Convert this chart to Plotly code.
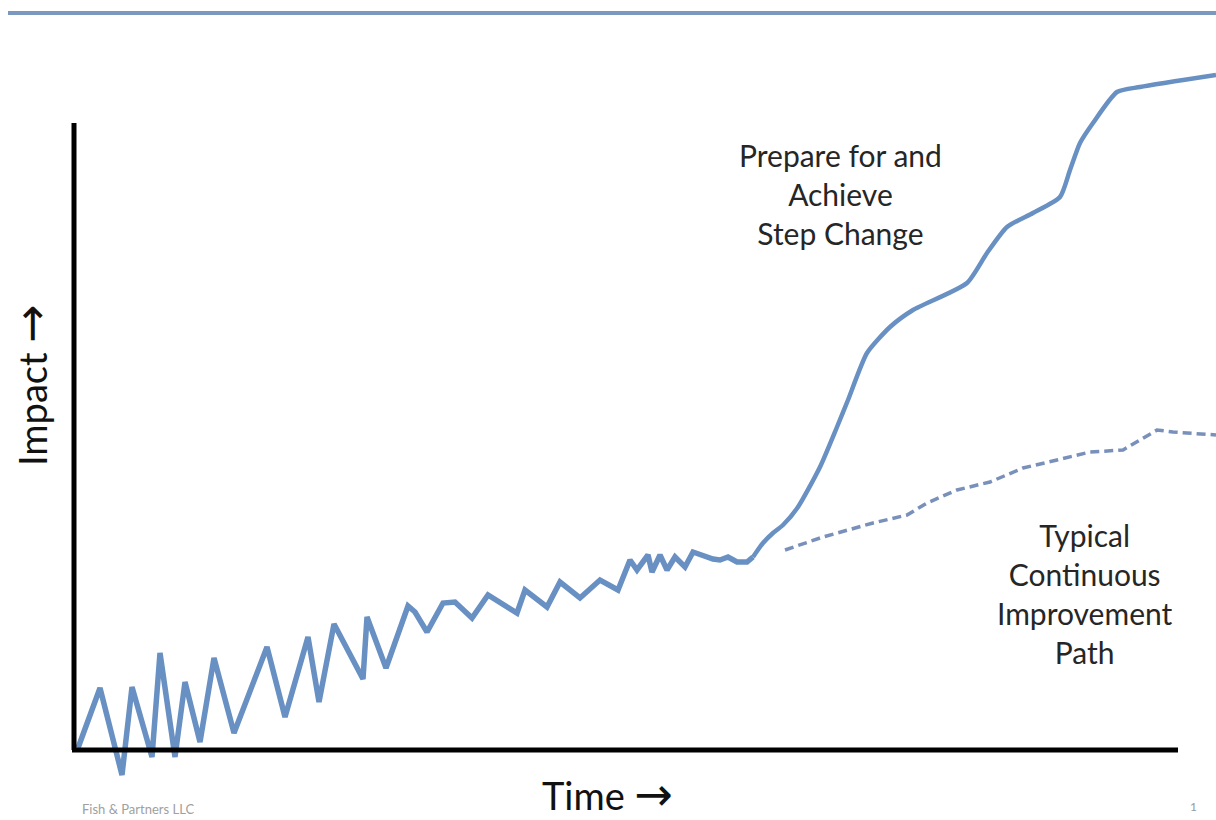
import plotly.graph_objects as go

# Step-change path: jagged early improvement, then a steep climb
time_step = [4, 26, 48, 58, 78, 86, 101, 111, 126, 140, 160, 193, 211, 234, 245,
             260, 289, 293, 312, 334, 341, 353, 369, 381, 398, 414, 443, 451, 473,
             486, 506, 526, 544, 556, 563, 574, 578, 586, 593, 601, 611, 619, 639,
             646, 654, 663, 673, 679]
impact_step = [2, 62, -25, 63, -7, 97, -7, 68, 8, 92, 17, 103, 33, 113, 48,
               126, 71, 133, 82, 144, 138, 118, 147, 148, 132, 155, 137, 160, 143,
               168, 152, 170, 160, 190, 180, 195, 178, 195, 180, 193, 183, 198, 191,
               190, 193, 188, 188, 193]

time_climb = [679, 689, 699, 709, 724, 746, 763, 774, 793, 816, 839, 893, 913,
              933, 959, 986, 996, 1006, 1019, 1043, 1066, 1142]
impact_climb = [193, 207, 217, 225, 243, 283, 323, 350, 397, 423, 440, 467, 497,
                523, 537, 553, 580, 607, 627, 658, 663, 675]

# Typical continuous-improvement path (dashed)
time_typical = [711, 749, 799, 833, 853, 883, 916, 949, 983, 1016, 1049, 1066,
                1083, 1099, 1142]
impact_typical = [200, 213, 227, 235, 247, 260, 268, 282, 290, 298, 300, 310,
                  320, 318, 315]

LINE_BLUE = "#6890c2"
DASH_BLUE = "#7890ba"
TEXT_FONT = "Lato, 'Open Sans', sans-serif"
ARROW = "<span style='font-family:DejaVu Sans;font-size:46px'>\u2192</span>"

fig = go.Figure()
fig.add_trace(go.Scatter(x=time_step, y=impact_step, mode="lines",
                         line=dict(color=LINE_BLUE, width=5.5), hoverinfo="skip"))
fig.add_trace(go.Scatter(x=time_climb, y=impact_climb, mode="lines",
                         line=dict(color=LINE_BLUE, width=4.5, shape="spline", smoothing=0.6),
                         hoverinfo="skip"))
fig.add_trace(go.Scatter(x=time_typical, y=impact_typical, mode="lines",
                         line=dict(color=DASH_BLUE, width=3.5, dash="9px,5px"),
                         hoverinfo="skip"))

# Axis lines drawn from the origin
fig.add_shape(type="line", xref="x", yref="y", x0=0, y0=0, x1=0, y1=627,
              line=dict(color="black", width=5))
fig.add_shape(type="line", xref="x", yref="y", x0=-2, y0=0, x1=1104, y1=0,
              line=dict(color="black", width=5))

# Header rule across the top
fig.add_shape(type="line", xref="paper", yref="paper", x0=8 / 1216, x1=1.0,
              y0=1 - 13 / 820, y1=1 - 13 / 820,
              line=dict(color="#7b98bf", width=4))

annotations = [
    dict(text="Prepare for and<br>Achieve<br>Step Change", x=840 / 1216, y=1 - 194 / 820,
         font=dict(size=30, color="#262626", family=TEXT_FONT)),
    dict(text="Typical<br>Continuous<br>Improvement<br>Path", x=1085 / 1216, y=1 - 593 / 820,
         font=dict(size=30, color="#262626", family=TEXT_FONT)),
    dict(text="Impact " + ARROW, x=31 / 1216, y=1 - 385 / 820, textangle=-90,
         font=dict(size=38, color="#111111", family=TEXT_FONT)),
    dict(text="Time " + ARROW, x=607 / 1216, y=1 - 794 / 820,
         font=dict(size=38, color="#111111", family=TEXT_FONT)),
    dict(text="Fish & Partners LLC", x=138 / 1216, y=1 - 809 / 820,
         font=dict(size=13, color="#a0a0a0", family=TEXT_FONT)),
    dict(text="1", x=1193 / 1216, y=1 - 806 / 820,
         font=dict(size=12, color="#9a9a9a", family=TEXT_FONT)),
]
for a in annotations:
    a.update(xref="paper", yref="paper", showarrow=False,
             xanchor="center", yanchor="middle", align="center")

fig.update_layout(
    width=1216, height=820,
    margin=dict(l=0, r=0, t=0, b=0),
    paper_bgcolor="white", plot_bgcolor="white",
    showlegend=False,
    xaxis=dict(range=[-74, 1142], visible=False, fixedrange=True),
    yaxis=dict(range=[-70, 750], visible=False, fixedrange=True),
    annotations=annotations,
)

fig.write_html("out.html")
